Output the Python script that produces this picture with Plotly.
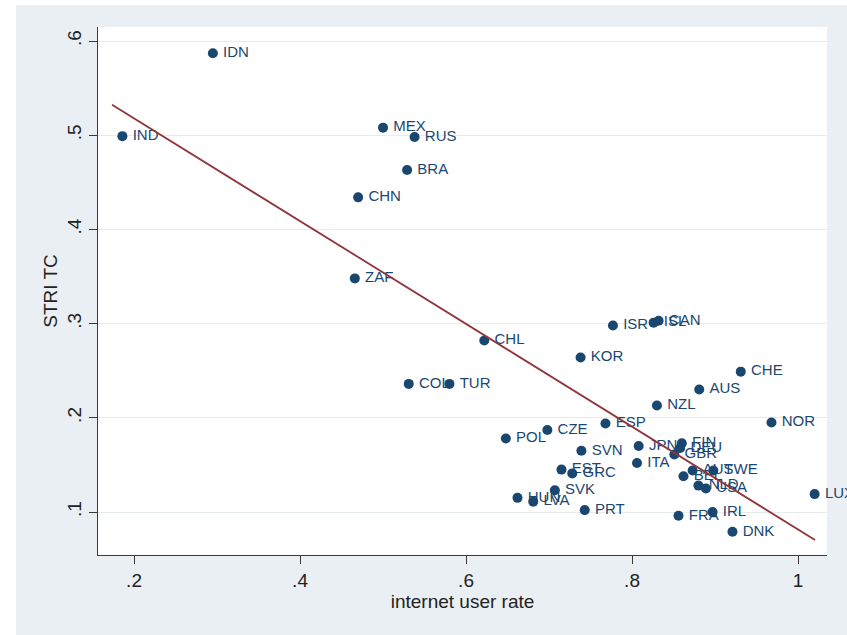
import plotly.graph_objects as go

# Country codes with internet user rate (x) and services trade restrictiveness index (y)
countries = ["IDN", "IND", "MEX", "RUS", "BRA", "CHN", "ZAF", "CHL", "ISR", "ISL",
             "CAN", "KOR", "CHE", "AUS", "NZL", "COL", "TUR", "ESP", "NOR", "CZE",
             "POL", "SVN", "JPN", "FIN", "DEU", "GBR", "ITA", "AUT", "SWE", "BEL",
             "NLD", "USA", "EST", "GRC", "SVK", "HUN", "LVA", "PRT", "FRA", "IRL",
             "DNK", "LUX"]
internet_rate = [0.295, 0.186, 0.500, 0.538, 0.529, 0.470, 0.466, 0.622, 0.777, 0.826,
                 0.832, 0.738, 0.931, 0.881, 0.830, 0.531, 0.580, 0.768, 0.968, 0.698,
                 0.648, 0.739, 0.808, 0.860, 0.858, 0.851, 0.806, 0.873, 0.898, 0.862,
                 0.880, 0.889, 0.715, 0.728, 0.707, 0.662, 0.681, 0.743, 0.856, 0.897,
                 0.921, 1.020]
stri_tc = [0.587, 0.499, 0.508, 0.498, 0.463, 0.434, 0.348, 0.282, 0.298, 0.301,
           0.303, 0.264, 0.249, 0.230, 0.213, 0.236, 0.236, 0.194, 0.195, 0.187,
           0.178, 0.165, 0.170, 0.173, 0.168, 0.161, 0.152, 0.144, 0.144, 0.138,
           0.128, 0.125, 0.145, 0.141, 0.123, 0.115, 0.111, 0.102, 0.096, 0.100,
           0.079, 0.119]

# Linear fit line end points
fit_x = [0.1735, 1.0205]
fit_y = [0.5324, 0.0703]

x_ticks = [0.2, 0.4, 0.6, 0.8, 1.0]
x_ticklabels = [".2", ".4", ".6", ".8", "1"]
y_ticks = [0.1, 0.2, 0.3, 0.4, 0.5, 0.6]
y_ticklabels = [".1", ".2", ".3", ".4", ".5", ".6"]

NAVY = "#1a476f"
MAROON = "#90353b"
REGION_BG = "#e9eff2"
AXIS_COL = "#3a3a3a"
FONT = "Liberation Sans, Arial, sans-serif"

fig = go.Figure()

fig.add_trace(go.Scatter(
    x=internet_rate, y=stri_tc, text=countries,
    mode="markers+text", textposition="middle right",
    texttemplate="\u2009%{text}",
    marker=dict(color=NAVY, size=10, line=dict(width=0)),
    textfont=dict(family=FONT, size=15, color=NAVY),
    hoverinfo="skip", showlegend=False, cliponaxis=False,
))

fig.add_trace(go.Scatter(
    x=fit_x, y=fit_y, mode="lines",
    line=dict(color=MAROON, width=1.8),
    hoverinfo="skip", showlegend=False,
))

# thin white border along the top and left of the graph region
fig.add_shape(type="rect", xref="paper", yref="paper",
              x0=-0.14, x1=-0.1125, y0=-0.2, y1=1.06,
              fillcolor="white", line=dict(width=0), layer="below")
fig.add_shape(type="rect", xref="paper", yref="paper",
              x0=-0.14, x1=1.05, y0=1.0417, y1=1.06,
              fillcolor="white", line=dict(width=0), layer="below")

fig.update_layout(
    width=847, height=635,
    margin=dict(l=98, r=20, t=27, b=80),
    paper_bgcolor=REGION_BG, plot_bgcolor="white",
    font=dict(family=FONT, color="#222222"),
    xaxis=dict(
        range=[0.1566, 1.0349],
        tickvals=x_ticks, ticktext=x_ticklabels,
        showgrid=False, zeroline=False,
        showline=True, linecolor=AXIS_COL, linewidth=1.3,
        ticks="outside", ticklen=8, tickwidth=1.3, tickcolor=AXIS_COL,
        tickfont=dict(size=19, color="#222222"),
        title=dict(text="internet user rate", font=dict(size=19, color="#222222"), standoff=2),
    ),
    yaxis=dict(
        range=[0.05435, 0.61486],
        tickvals=y_ticks, ticktext=y_ticklabels, tickangle=-90,
        showgrid=True, gridcolor="#e6ebee", gridwidth=1,
        zeroline=False,
        showline=True, linecolor=AXIS_COL, linewidth=1.3,
        ticks="outside", ticklen=8, tickwidth=1.3, tickcolor=AXIS_COL,
        tickfont=dict(size=19, color="#222222"),
        title=dict(text="STRI TC", font=dict(size=19, color="#222222"), standoff=1),
    ),
)

fig.write_html("out.html", config={"displayModeBar": False})
